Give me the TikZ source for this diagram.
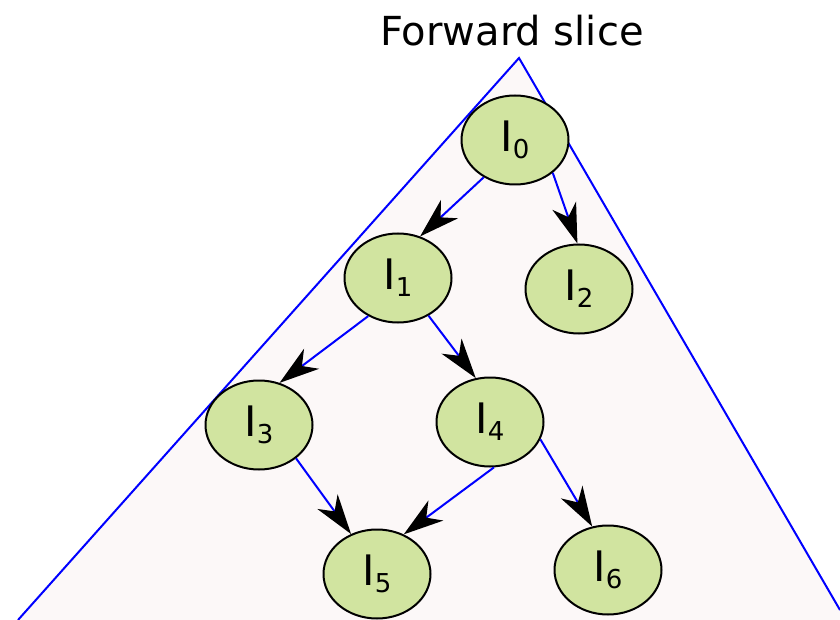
\documentclass[tikz,border=0pt]{standalone}
\usepackage{fontspec}
\setmainfont{DejaVu Sans}
\usetikzlibrary{arrows.meta,shapes.geometric}
\definecolor{nodefill}{HTML}{D1E4A0}
\definecolor{trifill}{HTML}{FCF8F8}
\newcommand{\lab}[1]{{\fontsize{42}{48}\selectfont I}\raisebox{-7pt}{\fontsize{26}{30}\selectfont #1}}
\tikzset{
  inst/.style={ellipse, draw=black, line width=2pt, fill=nodefill,
    minimum width=107pt, minimum height=89pt, inner sep=0pt},
  dep/.style={draw=blue, line width=2pt,
    -{Stealth[black, length=40pt, width=25pt, inset=12pt]}}
}
\begin{document}
\begin{tikzpicture}[x=1pt,y=-1pt]
\useasboundingbox (0,0) rectangle (840,620);
\coordinate (apex) at (519,58);
\coordinate (bl) at (18,620);
\coordinate (br) at (840,610);
\fill[trifill] (apex) -- (bl) -- (840,620) -- (br) -- cycle;
\draw[blue, line width=2pt] (bl) -- (apex) -- (br);
\node (title) at (512,31) {\fontsize{40}{48}\selectfont Forward slice};
\node[inst] (I0) at (515,140) {\lab{0}};
\node[inst] (I1) at (398,278) {\lab{1}};
\node[inst] (I2) at (579,289) {\lab{2}};
\node[inst] (I3) at (259,425) {\lab{3}};
\node[inst] (I4) at (490,422) {\lab{4}};
\node[inst] (I5) at (377,574) {\lab{5}};
\node[inst] (I6) at (608,570) {\lab{6}};
\draw[dep] (I0.-130) -- (I1.62);
\draw[dep] (I0.-41) -- (I2.92);
\draw[dep] (I1.-128) -- (I3.64);
\draw[dep] (I1.-51) -- (I4.108);
\draw[dep] (I3.-42) -- (I5.123);
\draw[dep] (I4.-85) -- (I5.56);
\draw[dep] (I4.-19) -- (I6.110);
\end{tikzpicture}
\end{document}
